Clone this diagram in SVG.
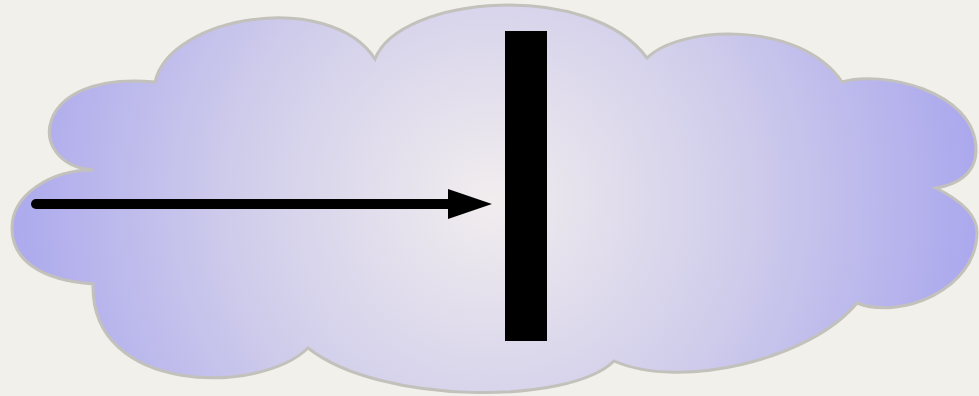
<svg xmlns="http://www.w3.org/2000/svg" width="979" height="396" viewBox="0 0 979 396">
  <style>
    .cloud { fill: url(#cloudFill); stroke: #c3c1bb; stroke-width: 3; stroke-linejoin: miter; }
    .bar { fill: #000000; }
    .conn { stroke: #000000; stroke-width: 10; stroke-linecap: round; fill: none; }
  </style>
  <defs>
    <radialGradient id="cloudFill" gradientUnits="userSpaceOnUse" cx="490" cy="200" r="500">
      <stop offset="0" stop-color="#f1edee"/>
      <stop offset="0.5" stop-color="#d0cdeb"/>
      <stop offset="1" stop-color="#a9a6ee"/>
    </radialGradient>
    <marker id="arrowHead" markerUnits="userSpaceOnUse" markerWidth="46" markerHeight="32" refX="2" refY="15" orient="auto" viewBox="0 0 46 32">
      <polygon points="0,0 44,15 0,30" fill="#000000"/>
    </marker>
  </defs>
  <rect width="979" height="396" fill="#f2f0eb"/>
  <g id="cloud">
    <path class="cloud" d="M155,82 C170,15 330,-10 375,59 C400,-5 590,-20 647,58 C680,25 800,20 842,82 C880,70 976,90 976,150 C976,175 955,185 936,188 C960,200 977,215 977,232 C977,290 900,320 857,303 C810,360 680,390 614,361 C570,405 380,405 308,348 C260,395 90,395 93,284 C40,280 12,260 12,228 C12,195 50,170 93,170 C25,165 30,70 155,82 Z"/>
  </g>
  <g id="bar">
    <rect class="bar" x="505" y="31" width="42" height="310"/>
  </g>
  <g id="connectors">
    <path class="conn" d="M36,204 L450,204" marker-end="url(#arrowHead)"/>
  </g>
</svg>
